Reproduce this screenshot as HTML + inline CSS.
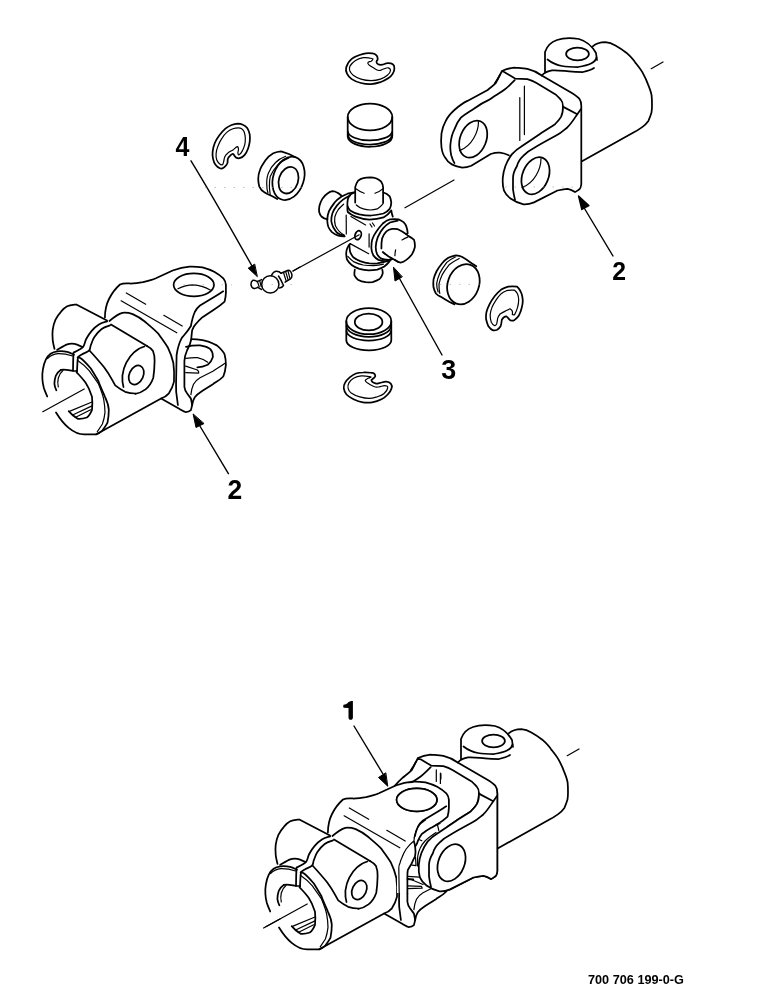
<!DOCTYPE html>
<html><head><meta charset="utf-8"><style>
html,body{margin:0;padding:0;background:#fff;width:772px;height:1000px;overflow:hidden}
svg{position:absolute;left:0;top:0;will-change:transform}
.l{fill:none;stroke:#000;stroke-width:1.75;stroke-linejoin:round;stroke-linecap:round}
.t{stroke-width:1.2}
.d{fill:none;stroke:#aaa;stroke-width:0.8;stroke-dasharray:2 4}
.n{font-family:"Liberation Sans",sans-serif;font-weight:bold;font-size:100px;fill:#000;-webkit-font-smoothing:antialiased}
.c{font-family:"Liberation Sans",sans-serif;font-weight:bold;font-size:12.7px;fill:#000;-webkit-font-smoothing:antialiased}
</style></head><body>
<svg width="772" height="1000" viewBox="0 0 772 1000">
<!-- UPPER RIGHT YOKE -->
<g id="yokeR" class="l">
  <!-- boss -->
  <path d="M545,72 L545,52 C547,46 551,42 557,40 C563,38 572,38 579,39 C586,41 592,46 596,53 L597,60"/>
  <path d="M547.5,59.5 C552,63 556,65 562,66 C568,67 574,67 578,67 C584,66 588,65 591,63.5 C594,62 596,60 596.5,57.5"/>
  <path d="M541.7,75.5 C545,72 548,71 552,70.4 C558,70 564,71 569,71.3 C575,72 579,72 583,72 C588,71 591,70 594,68"/>
  <ellipse cx="577.5" cy="54" rx="11.4" ry="6.3"/>
  <!-- big cylinder -->
  <path d="M592.7,46.3 C596,43.5 600,42.3 605.4,42.2 C609,42.5 612,43.5 615.4,45.4 C620,48 623,50 626.3,52.7 C630,56 633,59 635.3,62.6 C638,66 640.5,69 642.6,72.6 C645,77 646.5,80 648,84.4 C649.5,88 651,92 651.6,95.3 C652,99 652,102 652,105.4 C652,108 651.8,110.5 651.5,112.6 C650.5,116 649.5,118.5 648.4,120.9 C646.5,123.5 644.5,125.5 642.2,127.1 C639.5,129 636.5,131 633.9,132.3 L582,161.3"/>
  <!-- yoke top edge + right edge + bottom of right ear -->
  <path d="M495,83 C498,79 500,75 502,71 C506,69 510,68 514.4,67.6 C519,68 523,68 527.4,68.9 C532,70 537,72 541.7,75.5 L572.7,93.5 C575,95 578,97 579.5,99 C581,101 581.3,103 581.3,106 L581.3,184 C581,187 580,189 579,189.5 C577,191 576,192 575,192 C572,190 570,189 567.5,188.8 C563,189 560,190 557,190.7 L534,202.4 C530,204 527,204.5 523.5,204.3 C518,203 514,201 510.5,198.5 C507,196 505,193 504,190.7 C502.5,186 502.5,182 502.8,177.7 C503,173 504,170 505.4,166 C507,162 509,158 511.8,154.4 C514,152 517,149 521,146.7 L540.3,133.7 C547,129.5 551,127 554.6,124.6 C557,122 559.5,119.5 561,116.8 C563,113 563,110 563,106.5 C563,103 562,101 561,100 C559,97 557,96 556,94.8 L536.5,83 C533,81 530,80 527.4,79.2 C523,79 519,78.8 515.1,78.6 L502.1,70.8"/>
  <!-- bevel corner -->
  <path d="M562.8,106.6 L577.3,114.2 L581,109"/>
  <!-- front face inner line -->
  <path d="M577.3,114.2 C574,119 571,124 567.5,127.2 C564,130 561,133 557,135 C550,139 542,143 534,148 C530,150 526,153 523.5,155.7 C520,159 518,162 517,166 C514,171 513,175 513,178 C513,182 513,186 513,189.4 C513.5,193 514,196 515,199.8"/>
  <!-- left ear outer -->
  <path d="M499.8,75 C498,79 497,81 495.9,82.8 C493,86 490,88 486.8,90.5 L467.4,100.9 C463,103 459,106 454.4,110 C450,114 447,118 445.4,121.6 C443,126 442,130 441.5,133.3 C441,138 441,143 441.5,147.5 C442,151 443,155 445.4,157.9 C447,161 449,163 451.8,164.4 C455,166 458,167 462.2,167.6 C466,167.5 468,167 471.3,165.7 L490.7,154 C494,153 497,152.5 499.8,152.7 C503,153 506,154 508.8,155.3"/>
  <!-- left ear inner edge -->
  <path d="M514.7,80.2 C511,84 508,87 505,89.2 C500,93 494,96 489.4,99.6 C484,102 479,105 473.9,108.7 C469,112 465,114 460.9,117.7 C458,121 456,125 454.4,129.4 C452,134 451,139 450.5,143.7 C450,148 450.5,152 451.2,155.3 C452,158 453,161 454.4,163.1"/>
  <!-- vertical lines middle -->
  <path class="t" d="M519.8,97.7 L519.8,140.4 M524.4,86 L524.4,134.6"/>
  <!-- holes -->
  <ellipse cx="473.2" cy="139.1" rx="13" ry="19.3" transform="rotate(22 473.2 139.1)"/>
  <path class="t" d="M478.5,121.5 C478.5,132 472,146 459.6,150.6"/>
  <ellipse cx="535.5" cy="175.8" rx="13" ry="19.3" transform="rotate(22 535.5 175.8)"/>
</g>
<g class="l">
  <path class="t" d="M541,158.5 C541,169 534.5,183 522,187.6"/>
</g>
<!-- centerline pieces -->
<g class="l t">
  <path d="M651.2,68.7 L663,62"/>
  <path d="M405,207.8 L454,180"/>
</g>
<!-- arrow 2 right -->
<g class="l" style="stroke-width:1.4">
  <path d="M583,206 L613,256"/>
  <path d="M578.5,195.9 L581.8,209.5 L588.9,205.6 Z" style="fill:#000"/>
</g>
<text class="n" transform="matrix(0.2479 0 0 0.2580 612.26 280.26)">2</text>
<!-- TOP SNAP RING -->
<g class="l">
  <path d="M346.2,67.4 C347.1,64.8 348.6,61.3 351.7,58.9 C354.7,56.4 359.5,54.8 363.3,53.8 C367.1,52.8 370.3,53.2 372.6,53.4 C375.0,53.7 375.6,54.4 376.5,55.4 C377.4,56.4 377.7,57.7 377.7,58.9 C377.7,60.1 376.4,61.0 376.5,62.0 C376.6,63.0 377.0,63.8 378.1,64.3 C379.1,64.8 380.7,64.9 382.3,64.7 C384.0,64.5 385.5,63.2 387.4,63.2 C389.3,63.1 391.6,63.4 392.8,64.3 C394.1,65.2 394.4,66.5 394.4,68.2 C394.4,69.9 394.0,71.8 392.8,73.6 C391.7,75.5 390.4,76.8 388.2,78.3 C385.9,79.8 383.5,81.1 380.4,82.2 C377.3,83.2 374.6,84.0 371.1,84.1 C367.6,84.3 364.5,83.9 361.0,83.0 C357.5,82.1 354.2,80.8 351.7,79.1 C349.1,77.4 348.0,75.7 347.0,73.6 C346.0,71.5 345.4,70.1 346.2,67.4 Z"/>
  <path class="t" d="M371.9,58.5 C370.2,58.1 366.2,57.4 363.3,57.7 C360.4,58.1 357.9,59.0 355.5,60.4 C353.2,61.9 351.1,64.1 350.1,65.9 C349.1,67.7 349.2,68.9 349.7,70.5 C350.3,72.2 351.2,73.7 353.2,75.2 C355.2,76.7 357.8,78.1 361.0,79.1 C364.2,80.1 367.6,80.6 371.1,80.6 C374.6,80.6 377.5,80.1 380.4,79.1 C383.3,78.1 385.6,76.7 387.4,75.2 C389.2,73.7 390.4,71.9 390.5,70.5 C390.6,69.2 389.4,68.1 388.2,67.8 C386.9,67.5 385.2,68.5 383.5,69.0 C381.8,69.5 380.7,70.7 378.9,70.5 C377.0,70.3 375.2,68.9 373.4,67.8 C371.6,66.8 369.7,65.7 368.7,64.7 C367.8,63.7 367.6,63.0 368.0,62.4 C368.4,61.7 370.2,61.7 371.1,61.2 C371.9,60.7 372.5,60.1 372.6,59.7 C372.8,59.2 373.5,58.8 371.9,58.5 Z"/>
</g>
<!-- TOP CUP -->
<g class="l">
  <ellipse cx="370" cy="117" rx="22.3" ry="13.4"/>
  <path d="M347.7,117 L347.7,136.5 A22.3,10.5 0 0 0 392.3,136 L392.3,117"/>
  <path d="M347.8,131.5 A22.2,9.4 0 0 0 392,132.2"/>
  <path d="M348.3,134.8 A21.7,9.2 0 0 0 391.7,135.8"/>
</g>
<!-- LEFT SNAP RING -->
<g class="l">
  <path d="M237.9,123.7 C235.8,123.8 233.9,124.1 231.6,125.0 C229.4,125.9 227.7,126.8 225.4,128.7 C223.2,130.6 221.1,133.0 219.2,135.5 C217.3,138.1 216.0,140.2 214.8,143.0 C213.7,145.8 213.0,148.3 212.7,151.1 C212.3,153.9 212.5,156.1 213.0,158.6 C213.5,161.0 214.1,163.0 215.5,164.8 C216.8,166.6 218.9,168.1 220.4,168.5 C222.0,169.0 222.9,168.2 224.2,167.3 C225.4,166.4 226.6,165.1 227.3,163.5 C228.0,162.0 227.3,160.0 227.9,158.6 C228.5,157.1 229.5,156.3 230.4,155.4 C231.3,154.6 232.1,153.8 232.9,153.9 C233.7,154.0 234.1,155.3 234.7,156.1 C235.4,156.8 235.6,157.6 236.6,157.9 C237.6,158.3 238.9,158.5 240.3,157.9 C241.8,157.4 243.3,156.4 244.7,154.8 C246.0,153.3 246.9,151.6 247.8,149.2 C248.7,146.9 249.3,144.5 249.7,141.8 C250.0,139.1 250.1,136.8 249.7,134.3 C249.2,131.8 248.4,129.8 247.2,128.1 C245.9,126.3 244.5,125.4 242.8,124.7 C241.1,123.9 239.9,123.7 237.9,123.7 Z"/>
  <path class="t" d="M238.5,127.8 C236.9,127.8 235.0,127.9 232.9,128.7 C230.7,129.5 228.7,130.6 226.7,132.4 C224.6,134.2 223.2,136.2 221.7,138.7 C220.1,141.1 219.0,143.4 218.0,146.1 C216.9,148.8 216.3,151.1 216.1,153.6 C215.9,156.0 216.1,158.0 216.7,159.8 C217.3,161.6 218.2,162.6 219.2,163.5 C220.2,164.4 221.5,165.0 222.3,164.8 C223.1,164.6 223.1,163.7 223.5,162.3 C224.0,160.8 224.0,158.4 224.8,156.7 C225.6,155.0 226.4,154.2 227.9,153.0 C229.4,151.7 231.2,151.0 232.9,149.9 C234.6,148.7 236.2,146.9 237.2,146.7 C238.2,146.6 238.4,148.1 238.5,149.2 C238.6,150.3 237.7,152.0 237.9,153.0 C238.0,154.0 238.3,155.2 239.1,154.8 C239.9,154.5 241.2,152.9 242.2,151.1 C243.2,149.3 244.1,147.2 244.7,144.9 C245.3,142.5 245.4,140.4 245.3,138.0 C245.2,135.7 244.7,133.5 244.1,131.8 C243.4,130.1 242.6,129.4 241.6,128.7 C240.6,128.0 240.0,127.8 238.5,127.8 Z"/>
</g>
<!-- LEFT CUP -->
<g class="l">
  <path d="M295,157.1 C292,155.5 290,154.5 288.9,154 L281.1,151.3 C278,151.5 276,152 273.3,153.2 C270,155 267.5,157.5 265.5,160.2 C263,164 261,166.5 260.1,169.5 C258.8,173 258.2,176 258.2,178.9 C258.3,182 258.6,184 259.3,186.6 C260.5,189 262,191 264,192 C266,193.5 268.5,194.5 271,195.6 L277.2,199"/>
  <ellipse cx="288.5" cy="178.3" rx="15.3" ry="22.3" transform="rotate(18 288.5 178.3)"/>
  <ellipse cx="288.5" cy="180.2" rx="9.6" ry="13.6" transform="rotate(18 288.5 180.2)"/>
  <path class="t" d="M285.7,156.3 C281,158 278,160 275.6,162.5 C272,166 270,169 268.7,172.6 C267,176 266.7,180 266.7,183.5 C266.7,187 267,190 267.9,192.8"/>
  <path class="t" d="M288.9,157.9 C284,160 280,162.5 277.2,165.6 C274,169 272,172.5 270.2,176.5 C269.5,180 269.3,183 269.4,186.6 C269.5,189 269.8,192 270.2,194.4"/>
</g>
<!-- CROSS -->
<g class="l">
  <!-- top trunnion -->
  <path d="M355.2,202.6 L355.2,187.1 C355.8,184.5 356.7,182.5 357.9,180.9 C359.5,179.5 361.3,178.6 363.3,178.2 C365.5,177.6 368,177.4 370.3,177.4 C372.5,177.5 374.5,177.9 376.5,178.5 C378.5,179.4 380,180.4 381.2,181.7 C382.4,183.5 383,185.3 383.1,187.1 L383.1,203"/>
  <path class="t" d="M355.5,188.6 C358,190.5 361,192.2 364.1,193.3 M375,193.3 C378,192.2 381,190.5 383.1,188.6"/>
  <path class="t" d="M356.3,205 C358.5,207 361,208.3 363.3,208.9 C365.5,209.6 368,210 370.3,210 C372.6,209.9 375,209.5 377.3,208.9 C379.5,207.6 381.3,206 382.7,204.2"/>
  <!-- top collar -->
  <path d="M354.8,192.5 C353,193 351.3,193.8 350.1,194.9 C349,196.2 348.2,197.8 347.8,199.5 C347.4,201.5 347.3,203.7 347.4,205.7 C348,207.5 348.9,209 350.1,210.4 C353,212.3 356,213.5 359.4,214.3 C363.2,215.1 367,215.5 371.1,215.5 C375.5,215.2 379.5,214.5 383.5,213.5 C386,212.3 388.2,210.8 389.7,208.9 C390.7,207 391.2,204.8 391.3,202.6 C391.1,200.5 390.6,198.3 389.7,196.4 C388,194.5 386,193.2 383.5,192.5"/>
  <path d="M347.4,206.5 C347.3,208.5 347.4,210.3 347.8,212 C350,214 352.5,215.5 355.5,216.6 C360,218.2 364.5,219.4 369.5,219.7 C374.5,219.5 379.3,218.7 383.5,217.4 C386.5,215.5 389.3,213.2 391.3,210.4 C391.5,212.5 392,214.5 392.8,216.6"/>
  <!-- body -->
  <path class="t" d="M346.2,215.1 L346.3,234"/>
  <path class="t" d="M350.9,216.6 L365.6,224.9"/>
  <path class="t" d="M369.1,233.9 L369.1,247.1"/>
  <path class="t" d="M350.1,243.6 L368.7,253.7"/>
  <path class="t" d="M370,224 L372,227 M372.5,223 L374.5,226"/>
  <ellipse cx="358.1" cy="235.2" rx="3" ry="4.6" transform="rotate(20 358.1 235.2)"/>
  <!-- left trunnion -->
  <path d="M341.2,195.5 C339.5,194 338.5,193 337.1,192.6 C335.5,191.5 334,191.1 332.5,191.1 C330.5,191.5 329,192.3 327.8,193.2 C325.5,194.8 324,196.5 322.6,198.4 C321,201 320,203.5 319.4,206 C319,208 319,210 319.1,211.8 C319.5,213.5 320.3,215.3 321.4,216.5 C323,218 325,219 327.5,219.4"/>
  <path d="M355.2,192 C352,192.5 350,193 347.6,193.7 C345.5,194.5 343.5,195.5 341.2,196.7 C338.5,198.5 336,200.5 334.2,203.1 C332,206 330.2,208.5 329,211.2 C327.8,214 327.3,217 327.2,220 C327.3,222.5 327.7,225 328.4,227 C329.3,229 330.5,230.8 331.9,232.2 C333.8,233.8 336,235 338.3,235.7 C340.3,236.2 342.5,236.4 344.7,236.3"/>
  <path d="M350,195.5 C347.5,196.8 345.2,198 343,199.6 C340.8,201.3 338.8,203.3 337.1,205.4 C335,208 333.5,210.5 332.5,213 C331.6,215.6 331.3,218.5 331.3,221.1 C331.6,223 332.2,225 333.1,227 C334.3,229 335.6,231.2 337.1,232.8 C339.2,234.5 341.6,235.3 344.1,235.7"/>
  <path class="t" d="M343.6,204.2 C341.8,205.8 340,207.5 338.3,209.5 C336.6,212 335.4,214.5 334.8,217 C334.4,220 334.6,223 335.4,225.8 C336.5,228 337.8,230 339.5,231.6 C341,233 342.5,234.2 344.1,235.1"/>
  <!-- right trunnion collar -->
  <path d="M392.1,259.1 C390,260.5 388.5,261.2 386.4,261.3 C383.5,261.2 381,260.8 378.5,259.9 C376.3,258.8 374.8,257.3 373.5,255.6 C372,253 371.5,251 371.4,248.5 C371.3,245 371.5,242.5 372.1,239.9 C373,236.5 374.5,234 376.4,231.4 C378.5,228.5 380.5,226 382.8,223.5 C385,221.5 387.5,219.8 390,219.3 C393,219 396,219 398.5,219.3 C400.5,220 402,221 403.5,222.1 C405,223.5 405.8,225 406.3,226.4 C407.2,229 407.6,231.5 407.7,233.5"/>
  <path d="M397.8,220.7 C395,221.2 392.5,221.7 390,222.5 C387.5,224 385.3,225.8 383.5,227.8 C381,230.5 379.2,233.8 377.8,237.1 C376.5,240.5 375.9,243.5 375.7,247 C375.7,249.5 376.2,252 377.1,254.2 C378.2,256 379.3,257.3 380.7,258.4 C383.5,259.7 386.3,260 389.2,259.9"/>
  <!-- right trunnion body & cap -->
  <path d="M381.4,248.5 C381.3,245 381.5,241.5 382.1,238.5 C383,235.8 384.5,233.3 386.4,231.4 C388,230 390,229.2 392.1,228.9 C394,228.7 396,228.8 397.8,229.2 C400.8,230.5 403.6,232.3 406.3,234.2"/>
  <path d="M382.8,252 C385.5,254.5 388.5,256.6 392.1,258.4 C394.5,259.8 396.5,261 398.5,262"/>
  <path d="M406.3,234.2 C407.5,235 407.7,235.3 407.7,235.6 C410,236.8 412.3,238.2 414.1,239.9 C414.9,242.5 415,244.5 414.9,247 C414.3,249.8 413.3,252 412,254.2 C410.3,256.5 408.5,258.4 406.3,259.9 C404.5,261.3 402.6,262.3 400.6,262.7 C398.5,262.3 396.5,261.3 394.9,259.9"/>
  <path class="t" d="M395.6,249.9 C395.2,251.8 395,253.8 394.9,255.6 M402,239.9 C403.8,238.8 405.8,237.8 407.7,237.1"/>
  <!-- bottom collar -->
  <path d="M350.1,244 C348.8,245.2 348,246.5 347.4,247.9 C346.6,249.6 346.3,251.4 346.2,253.3 C346.2,255.5 346.5,257.5 347,259.5 C348.2,261.6 349.8,263.5 351.7,265 C354,266.8 356.6,268 359.4,268.9 C362.5,269.8 365.5,270.3 368.7,270.4 C371.6,270.4 374.5,270.1 377.3,269.6 C379.7,268.8 382.1,267.8 384.3,266.5 C386.3,264.9 388.2,263.1 389.7,261.1 L391.3,258.7"/>
  <path d="M349.3,244.8 C349.5,247.2 349.7,249.6 350.1,251.8 C350.9,253.7 351.9,255.6 353.2,257.2 C355.3,258.8 357.7,260.1 360.2,261.1 C363.2,262.2 366.3,263 369.5,263.4 C372.1,263.6 374.7,263.6 377.3,263.4 C379.7,263 382,262.5 384.3,261.9 C386.2,261.2 388,260.4 389.7,259.5"/>
  <path class="t" d="M347.8,256.4 C349.6,258.4 351.7,260.3 354,261.9 C357,263.4 360,264.4 363.3,265 C366.6,265.5 370,265.7 373.4,265.7 C376.8,265.4 380.2,264.9 383.5,264.2"/>
  <!-- bottom trunnion -->
  <path d="M354.8,269.6 C354.5,271.4 354.3,273.3 354.4,275.1 C355.2,276.9 356.4,278.5 357.9,279.7 C360.3,281 362.9,281.8 365.6,282.1 C367.9,282.3 370.3,282.3 372.6,282.1 C375.1,281.3 377.5,280.3 379.6,279 C381.1,277.4 382.2,275.6 382.7,273.5 C382.8,272.2 382.6,270.9 382.3,269.6"/>
</g>
<!-- line into grease hole -->
<path class="l t" d="M293,271 L359.2,234.8"/>
<!-- GREASE FITTING -->
<g class="l" style="stroke-width:1.5">
  <path d="M257,281.5 C255.5,280.3 254,279.9 252.8,280.3 C251.4,281.2 250.9,283 251,284.8 C251.3,286.6 252.3,288 254,288.4 C255.5,288.5 256.8,288 257.8,287.4"/>
  <path d="M257,281.5 C258.5,281 260,280.3 261.5,279.6 M257.8,287.4 C259,288 260.3,288.8 261.6,289.5"/>
  <path class="t" d="M257.6,282 L259.2,286.8 M259.8,281.2 L261.2,286.5"/>
  <circle cx="270.3" cy="284.4" r="8.6"/>
  <path d="M271.5,275.5 C272.5,273.2 274,271.6 276,271.3 C278.2,271.2 280,272 281,273.3 M278.5,276 C280.5,279 282.5,283 283.5,285.5 C282.5,287 281,287.8 279.4,288"/>
  <path d="M281,273.3 L288.2,270.2 C290,270.2 291.5,272.5 292,275.2 C292,277 291.2,278.2 290.5,278.8 L285.1,282.2"/>
  <path class="t" d="M283.5,272.5 L286,280.5 M285.7,271.6 L288,279.5 M287.9,270.7 L290,278.6"/>
</g>
<path class="l t" d="M293,271 L300,267"/>
<!-- label 4 + arrow -->
<text class="n" transform="matrix(0.2500 0 0 0.2706 175.60 156.37)">4</text>
<g class="l" style="stroke-width:1.4">
  <path d="M191,160.8 C215,200 235,236 252,266"/>
  <path d="M257.1,276.4 L248.2,268.2 L254.4,264.3 Z" style="fill:#000;stroke-width:1"/>
</g>
<!-- RIGHT CUP -->
<g class="l">
  <path d="M476.3,266.3 C474.8,265.2 473.2,264.2 471.6,263.2 C468.6,261 465.5,258.8 462.3,257 C460.3,256 458.2,255.5 456.1,255.4 C453.4,255.8 450.7,256.6 448.3,257.8 C446,259.3 443.9,261.1 442.1,263.2 C440.1,265.7 438.2,268.3 436.7,271 C435.3,273.8 434.2,276.6 433.5,279.5 C433.2,282.1 433.2,284.7 433.5,287.3 C434,289.5 434.8,291.6 435.9,293.5 C437.2,294.9 438.8,296 440.5,296.6 C443.1,298.3 445.7,299.9 448.3,301.3 C450.4,302.4 452.5,303.4 454.5,304.4"/>
  <ellipse cx="463.4" cy="284.2" rx="15.6" ry="20.6" transform="rotate(20 463.4 284.2)"/>
  <path class="t" d="M455.3,257 C452.3,258.4 449.4,260.2 446.8,262.4 C444.1,265.8 441.7,269.4 439.8,273.3 C438.3,276.6 437.2,279.9 436.7,283.4 C436.6,286.3 437.1,289.2 438.2,292"/>
  <path class="t" d="M459.2,258.5 C455.6,260.3 452.2,262.4 449.1,264.8 C446.5,267.9 444.1,271.3 442.1,274.9 C440.6,277.9 439.6,281 439,284.2 C438.9,287.3 439.2,290.4 439.8,293.5"/>
</g>
<!-- RIGHT SNAP RING -->
<g class="l">
  <path d="M517,286.7 C514,286.3 511,286.3 508.2,286.7 C505.8,287.3 503.4,288.3 501.2,289.6 C498.8,291.5 496.7,293.6 494.8,296 C492.8,298.6 491,301.3 489.6,304.1 C488.2,306.8 487.1,309.5 486.4,312.3 C486,314.6 485.9,317 486.1,319.3 C486.6,321.7 487.3,324.1 488.4,326.3 C489.7,328.2 491.3,329.8 493.1,330.4 C494.5,330.6 495.9,330.4 497.2,329.8 C498.7,328.8 499.8,327.6 500.6,326.3 C501.4,324.2 501.6,322 501.8,319.9 C502.3,318.9 502.9,318.1 503.6,317.5 C504.5,316.8 505.5,316.4 506.5,316.4 C507.2,316.8 507.8,317.4 508.2,318.1 C509,319.1 509.8,320 510.6,320.5 C512,320.8 513.4,320.6 514.6,319.9 C516.2,318.8 517.6,317.4 518.7,315.8 C520,313.4 521,310.8 521.6,308.2 C522.4,305.7 522.8,303.2 522.8,300.6 C522.7,298.3 522.3,296 521.6,293.7 C520.8,291.7 519.9,289.9 518.7,288.4 Z"/>
  <path class="t" d="M513.5,290.2 C511.2,290 508.8,290.1 506.5,290.7 C504.6,291.4 502.8,292.4 501.2,293.7 C499.3,295.7 497.5,297.8 496,300.1 C494.4,302.5 493,305 491.9,307.6 C491,309.9 490.4,312.2 490.2,314.6 C490.1,317.1 490.5,319.7 491.3,322.2 C492.1,323.8 493.3,325 494.8,325.7 C495.6,325.4 496.2,324.8 496.6,324 C497.2,322 497.4,320 497.7,318.1 C498.3,316.6 499.1,315.2 500.1,314 C501.8,312.9 503.5,312 505.3,311.1 C506.9,310.3 508.4,309.5 510,308.8 C511,309.5 511.8,310.2 512.3,311.1 C512.6,312.3 512.5,313.5 512.3,314.6 C513,315 513.8,315 514.6,314.6 C515.8,312.4 516.8,310 517.5,307.6 C518.3,304.9 518.7,302.2 518.7,299.5 C518.6,297.5 518.2,295.5 517.5,293.7 C516.7,292.4 515.7,291.1 514.6,290.2 Z"/>
</g>
<!-- BOTTOM CUP -->
<g class="l">
  <ellipse cx="368.8" cy="321.2" rx="22.5" ry="13"/>
  <ellipse cx="368.6" cy="322" rx="13.8" ry="8.4"/>
  <path d="M346.3,321.2 L346.3,340.4 A22.5,10.2 0 0 0 391.3,340 L391.3,321.2"/>
  <path d="M346.5,325.8 A22,10.8 0 0 0 391,326"/>
  <path d="M346.5,331.1 A22,9.3 0 0 0 391,331.1"/>
</g>
<!-- BOTTOM SNAP RING -->
<g class="l">
  <path d="M371.4,372.8 C369.6,372.6 366.4,372.2 363.6,372.4 C360.8,372.5 358.4,372.6 355.9,373.5 C353.4,374.5 351.6,375.8 349.7,377.4 C347.7,379.1 346.0,380.9 345.0,382.9 C343.9,384.8 343.5,386.2 343.8,388.3 C344.1,390.4 344.8,392.6 346.5,394.5 C348.3,396.5 350.6,397.8 353.5,399.2 C356.5,400.6 359.5,401.7 362.9,402.3 C366.2,402.9 368.8,402.9 372.2,402.3 C375.5,401.7 378.7,400.6 381.5,399.2 C384.3,397.8 385.9,396.5 387.7,394.5 C389.5,392.6 391.1,390.3 391.6,388.3 C392.2,386.4 391.8,384.8 390.8,383.6 C389.9,382.5 388.1,381.8 386.2,381.7 C384.2,381.6 381.8,382.5 380.0,382.9 C378.1,383.2 377.6,384.1 376.1,383.6 C374.5,383.2 371.8,381.5 371.4,380.5 C371.0,379.6 373.0,379.0 373.7,378.2 C374.4,377.4 375.3,376.8 375.3,375.9 C375.3,375.0 374.4,373.7 373.7,373.2 C373.0,372.6 373.2,372.9 371.4,372.8 Z"/>
  <path class="t" d="M369.9,376.7 C368.2,376.4 364.2,375.6 361.3,375.9 C358.4,376.2 355.8,377.0 353.5,378.2 C351.3,379.5 349.9,381.1 348.9,382.9 C347.9,384.7 347.7,386.5 348.1,388.3 C348.5,390.1 349.1,391.4 351.2,393.0 C353.3,394.5 356.5,395.9 359.8,396.9 C363.0,397.8 366.0,398.4 369.1,398.4 C372.2,398.4 374.2,397.7 376.9,396.9 C379.5,396.0 381.9,395.4 383.8,393.7 C385.8,392.1 387.6,389.0 387.7,387.5 C387.9,386.1 386.2,385.7 384.6,385.6 C383.1,385.5 381.0,386.5 379.2,386.8 C377.4,387.0 376.6,387.5 374.5,386.8 C372.4,386.1 369.2,384.0 367.5,382.9 C365.8,381.8 365.2,381.3 365.2,380.5 C365.2,379.8 366.5,379.2 367.5,378.6 C368.5,378.0 370.2,377.8 370.6,377.4 C371.1,377.1 371.5,376.9 369.9,376.7 Z"/>
</g>
<!-- label 3 + arrow -->
<text class="n" transform="matrix(0.2694 0 0 0.2743 441.16 378.80)">3</text>
<g class="l" style="stroke-width:1.4">
  <path d="M397,274 L442,355"/>
  <path d="M393.5,267.5 L395,281 L402,277 Z" style="fill:#000;stroke-width:1"/>
</g>
<!-- LOWER LEFT YOKE -->
<g class="l" id="yokeL">
  <!-- back hub silhouette + boss top line -->
  <path d="M54.5,348.9 C54.2,347.3 53.0,343.3 52.7,339.9 C52.4,336.4 52.2,333.5 52.7,329.9 C53.2,326.3 53.9,323.2 55.4,319.9 C56.9,316.7 58.7,314.2 60.9,311.8 C63.0,309.3 64.4,307.6 67.2,306.3 C70.0,305.0 74.6,304.8 76.3,304.5 L107,320.5"/>
  <path d="M111,324.5 L147,345.9"/>
  <!-- slot -->
  <path d="M107.1,321.3 C105.6,321.8 101.7,322.7 98.9,324.5 C96.2,326.2 94.0,328.2 91.7,330.8 C89.4,333.4 87.7,336.2 86.2,339.0 C84.8,341.7 84.8,344.3 83.5,346.2 C82.2,348.2 80.8,348.7 79.0,349.8 C77.2,351.0 74.5,352.1 73.5,352.6 L73.2,360 L73,370.8 L77,371"/>
  <path d="M110.0,325.4 C108.5,326.0 104.5,326.9 101.7,329.0 C98.8,331.1 96.4,334.2 94.4,337.1 C92.4,340.1 91.7,342.9 90.8,345.3 C89.8,347.8 90.6,349.1 89.0,350.7 C87.3,352.4 83.7,353.2 81.7,354.4 C79.7,355.5 78.7,356.6 78.1,357.1 L77.6,360 L77,371"/>
  <!-- small arc back hub edge -->
  <path d="M57.2,349.8 C59.0,348.9 64.1,345.5 67.2,344.4 C70.3,343.3 71.7,343.5 74.5,343.9 C77.2,344.4 81.1,346.5 82.6,347.1"/>
  <!-- front ring outer -->
  <path d="M74.0,354.7 C72.7,354.2 70.1,352.4 67.2,351.8 C64.2,351.2 60.4,351.0 57.4,351.3 C54.5,351.7 52.7,352.3 50.6,353.7 C48.5,355.2 47.2,356.8 45.8,359.6 C44.4,362.4 43.5,365.8 42.9,369.3 C42.2,372.8 42.2,375.7 42.4,379.0 C42.5,382.3 43.0,384.6 43.8,387.8 C44.7,390.9 46.6,394.9 47.2,396.5"/>
  <path d="M56,412.5 C60,419 64,424 68.7,427.9 C73,431.5 79,434.4 84.2,434.4 L95.9,434.4 C99,433.5 101,432 102.4,430.5 C105,427 106.5,425 107.5,422.7 C108.5,418 108.8,414 108.8,409.8 C108.5,405 107,401 105,396.8 C102.5,391 100,386 98.5,381.3 C96,377 93,372 90.7,368.3 C87,364 84,360.5 80.3,358 L77.6,357.4"/>
  <path class="t" d="M77.7,360.5 C83,364 86,367 89.4,370.9 C93,376 96,380 98.5,383.9 C101,390 103,395 103.7,399.4 C104.7,405 105,409 105,412.4 C104.5,417 103.5,421 102.4,424 L97.2,431.8"/>
  <path class="t" d="M47.5,358.5 C50.5,355.5 54,354 58,353.7 C62.5,353.6 67,354.2 72.6,356"/>
  <!-- bore -->
  <path d="M61,369.8 C58.5,371.5 56.5,373.5 55.7,376.1 C54.8,379 54.4,381 54.4,383.9 C54.6,386.5 55.5,388.5 56.4,390.3"/>
  <path class="t" d="M63,370.5 C60.5,372.5 59,375 58.3,378 C57.6,381 57.6,384 58.3,387"/>
  <path d="M61,369.8 C64,369.5 67,369.8 70,370.3 L73,370.8 M77,371 L76.5,372.2 C80,376 83,379 85.5,382.6 C88.5,387 90.5,392 92,396.8 C92.5,401 92.5,405 92,409.8 C90.5,413.5 89,416 86.8,417.5 C84,418.5 80,419 77.7,418.8 C74,416.5 71,414 68.7,411.1"/>
  <path class="t" d="M42.8,411.7 L84.2,389"/>
  <path class="t" d="M70,411.1 L92,402 M72.6,415 L92,405.9 M75.2,417.5 L90.7,409.8"/>
  <!-- hub bottom line -->
  <path d="M95.9,434.4 L161.1,398.5 L179.2,408.8 C182,410.5 184,412 185.7,412.1 C188,412 190,411 190.9,410.1 L192.2,405"/>
  <!-- hub outer right edge -->
  <path d="M89.5,350.5 C94.5,356 99.5,361.5 104.1,367.3 C107.2,371.5 110,375.8 112.3,380.1 L115.2,385.4 C118.5,388 121.8,390.2 125.1,391.8 C128.6,392.9 132,393.4 135.6,393.5"/>
  <!-- boss end face -->
  <path d="M147,345.9 C150,347.5 152,349.2 153,351 C154.5,355 154.8,358 154.6,361 C154.5,367 154,373 153.3,377.7 C151.5,383 149,386.5 145.5,389.4 C142,392 138.5,393.5 135.2,393.9"/>
  <path d="M144.4,346.5 C140,347.5 137,349.5 134,352.4 C131,355 128.5,358.5 126.3,362.7 C124,367 123,371 122.4,375.7 C122.2,380 122.5,384 123.5,387"/>
  <ellipse cx="136.3" cy="375" rx="7" ry="10" transform="rotate(25 136.3 375)"/>
  <!-- yoke body outline top -->
  <path d="M104.9,317.4 C105,310 106,305 109,299 C112,293 116,288 120,284.5 C123,283 127,283.3 130,283.5 C135,283.5 139,283 143,282.2 C148,281 152,280 155.9,278.3 L172.7,270.5 C178,268.5 184,267 189.6,266.7 C194,266.5 198,266.8 202.5,267.3 C207,268.5 211,270 214.2,271.8 C218,274 221,276 223.3,278.3 C225,280.5 225.7,282.5 225.9,284.8 L225.9,292.6 C225.8,296 225.3,299 224.6,301.6 C221,305 218,307 214.2,309.4 L202.5,317.2 C200,319.5 198,321.5 196.1,323.7 C194,326 193,328 192.2,330.1 C191.7,333 191.5,336 191.2,339.5 C190.5,344 189,347 187,350.5 C185.5,354 184.5,357 184.4,360.9 L184.4,386.8 C184.8,389.5 185.5,391.5 187,393.3 C188.5,395.5 190,397 190.9,398.5 L192.2,405"/>
  <!-- top ear thickness / front edge line -->
  <path d="M223.3,291.3 C219,294 216,296 212.9,297.7 L200,305.5 C197.5,307.5 196,309.5 194.8,312 C193,316 192,320 190.9,326 C188,331 185,334 181.8,337.9 C179,343 177.5,349 176.6,355 C176.5,362 176.3,370 176.2,377 C176,382 176,387 176.2,392 L177.9,405"/>
  <!-- top ear hole -->
  <ellipse cx="193.8" cy="284.8" rx="20.2" ry="11.5"/>
  <!-- saddle arc / front face edge -->
  <path d="M109.4,321 C114,317 118,314 122.4,312.8 C126,312.5 129.5,313 132.7,314.1 C137,316 141,318.5 144.4,321.3 C150,326 155,330 158.7,334.2 C162,339 165,343 167.7,347.2 C170,352 172,357 173.3,362.7 C174.2,369 174.3,375 174,381.6 C173,386 171,390 168.9,393.3 C166.5,396 164,397.5 161.1,398.5"/>
  <!-- lines on top -->
  <path class="t" d="M126.3,293 L145.7,304.3 M121.1,300.8 L176.8,332.8 M163.8,315.3 L182.2,326"/>
  <!-- lower ear -->
  <path d="M191.5,339 C195,339 199,339.5 202.5,340.2 C207,341 212,343 216.8,345.4 C220,348 223,351 224.6,354.4 C225.6,358 225.9,361 225.9,364.8 C225.5,369 224.8,373 223.3,376.5 C220,380 216,382 212.9,384.2 L202.5,390.7 C199,393 196.5,395 194.8,397.2 C193.3,399.5 192.5,402 192.2,405"/>
  <path class="t" d="M224.6,363.5 C220,367 216,369 212.9,371.3 L200,377.7 C197,379.5 195,381.5 193.5,384.2 C192,387.5 191.2,391 190.9,394.6"/>
  <path d="M186,346.8 C190,345.8 195,345.3 200,345.4 C204,346 208,347 210.3,349.2 C212.5,351.5 213,354 212.9,357 C212,360 210,363 207.7,364.8 C204,366.5 200,367.3 197.4,367.4"/>
  <path class="t" d="M185.7,358.3 C190,357.8 194,357.6 197.4,357.7 C201,358.5 205,360 207.7,362.2"/>
  <path class="t" d="M185.7,366.1 L197.4,370 C198.5,371 199,372 198.7,373.2 L185.7,372.6"/>
</g>
<g class="l">
  <path class="t" d="M177.9,288.7 C183,286 188,284.8 193.5,284.8 C199,285 205,287 210.3,290"/>
</g>
<!-- label 2 lower + arrow -->
<g class="l" style="stroke-width:1.4">
  <path d="M199,424.5 L228.4,473.7"/>
  <path d="M193.2,414.3 L196,427.5 L203.7,423.7 Z" style="fill:#000;stroke-width:1"/>
</g>
<text class="n" transform="matrix(0.2646 0 0 0.2739 227.41 499.27)">2</text>
<!-- faint centerlines -->
<g style="fill:none;stroke:#999;stroke-width:0.6;stroke-dasharray:1.5 8">
  <path d="M505,187 L590,187"/>
  <path d="M205,187.5 L306,187.5"/>
  <path d="M262,284.5 L292,284.5"/>
  <path d="M440,284.4 L486,284.4"/>
  <path d="M174,284.8 L232,284.8"/>
</g>
<!-- ASSEMBLED JOINT -->
<g id="asm">
  <use href="#yokeR" transform="translate(-84,687)"/>
  <path style="fill:#fff;stroke:none" d="M350,790 L380,783 L399,776.5 L403,776 L403,792 L350,815 Z M432,784 L444,784 L444,792 L432,792 Z"/>
  <path class="l t" d="M436.3,769.8 L436.3,781.5 M440.9,773.7 L440.9,779"/>
  <!-- white silhouette of left yoke -->
  <path transform="translate(223,515)" style="fill:#fff;stroke:none" d="M53,349.6 C52,339 53,329 55.5,321.1 C58,315 63,309 76.3,304.2 L104.9,317.4 C105,310 106,305 109,299 C112,293 116,288 120,284.5 C127,283 139,283 155.9,278.3 L172.7,270.5 C184,267 198,266.8 214.2,271.8 C221,276 225.9,280 225.9,292.6 C225.3,299 221,305 214.2,309.4 L202.5,317.2 C194,326 191.5,333 191.5,339 C207,341 220,348 225.9,364.8 C225,373 216,382 202.5,390.7 C196.5,395 192.5,402 192.2,405 L190.9,410.1 C188,412 184,412 179.2,408.8 L161.1,398.5 L95.9,434.4 L84.2,434.4 C73,431.5 60,419 47.3,396.8 C43,385 42,372 44.1,361.8 C46,356 50,352 53,349.6 Z"/>
  <use href="#yokeL" transform="translate(223,515)"/>
  <path class="l" d="M403.5,776.8 C400.5,779.5 398,782 394.5,786"/>
  <!-- top ear cup -->
  <ellipse class="l" cx="416.8" cy="799.8" rx="20.2" ry="11.5" style="fill:#fff"/>
  <!-- cross pieces between -->
  <path style="fill:#fff;stroke:none" d="M413.5,838 L421.8,833.5 L431.1,827.3 L440,822.5 L448,826 L440,870 L424,886 L420,893 L397,893 L397,868 L402,857 L406.2,849 Z"/>
  <g class="l">
    <path class="t" d="M425.4,820 C421,823 419,825 418.1,826.7 C416,830 414.8,834 414.5,836.6 C414.2,838.5 414,840 414,841.8"/><path d="M414,841.8 C414.5,843.5 415,845 415,845.9 C415.3,848 415.5,850 415.5,852.1 C415.4,853.5 415.2,855 415,856.3 C413.5,859 412.5,861.5 411.4,864 C410,866 409,868 407.8,870 C407.5,872 407.4,874 407.4,876 L407.4,893"/>
    <path d="M439.9,823.1 C436,825 433.5,826.5 431.1,827.8 C427.5,829.8 424.5,832 421.8,834 C420.5,835.8 419.5,837.5 418.7,839.2 C418,840.5 417.5,842 417.1,843.3 L415.5,846"/>
  </g>
  <g class="l t">
    <path d="M413.5,841.2 C410,844 408,846.5 406.2,849 C404.5,851.5 403,854.5 402.1,857.3 C401,859.5 400.5,861 400,863 C399,865 398.8,866.5 398.8,868 L399.2,893"/>
    <path d="M415.5,857.3 L416,865.6 L411.9,865.1"/>
    <path d="M419.6,839.7 L421.8,840.7"/>
    <path d="M407.7,876.3 L419.5,877.2 M412.2,880 L423.1,884.5 M407.7,885.8 L421.3,886.3 L422.2,888.1 L407.7,888.6"/><path style="stroke-width:2.2" d="M407.7,879 L413.1,879.5"/>
    <path d="M437.5,824.9 L438.8,830.5"/>
  </g>
  <!-- right ear of right yoke in front -->
  <g transform="translate(-84,687)">
    <path style="fill:#fff;stroke:none" d="M581.3,106 L581.3,184 C581,187 580,189 579,189.5 C577,191 576,192 575,192 C572,190 570,189 567.5,188.8 C563,189 560,190 557,190.7 L534,202.4 C530,204 527,204.5 523.5,204.3 C518,203 514,201 510.5,198.5 C507,196 505,193 504,190.7 C502.5,186 502.5,182 502.8,177.7 C503,173 504,170 505.4,166 C507,162 509,158 511.8,154.4 C514,152 517,149 521,146.7 L540.3,133.7 C547,129.5 551,127 554.6,124.6 C557,122 559.5,119.5 561,116.8 C563,113 563,110 563,106.5 Z"/>
    <path class="l" d="M581.3,106 L581.3,184 C581,187 580,189 579,189.5 C577,191 576,192 575,192 C572,190 570,189 567.5,188.8 C563,189 560,190 557,190.7 L534,202.4 C530,204 527,204.5 523.5,204.3 C518,203 514,201 510.5,198.5 C507,196 505,193 504,190.7 C502.5,186 502.5,182 502.8,177.7 C503,173 504,170 505.4,166 C507,162 509,158 511.8,154.4 C514,152 517,149 521,146.7 L540.3,133.7 C547,129.5 551,127 554.6,124.6 C557,122 559.5,119.5 561,116.8 C563,113 563,110 563,106.5"/>
    <path class="l" d="M562.8,106.6 L577.3,114.2 L581,109"/>
    <path class="l" d="M577.3,114.2 C574,119 571,124 567.5,127.2 C564,130 561,133 557,135 C550,139 542,143 534,148 C530,150 526,153 523.5,155.7 C520,159 518,162 517,166 C514,171 513,175 513,178 C513,182 513,186 513,189.4 C513.5,193 514,196 515,199.8"/>
    <ellipse class="l" cx="535.5" cy="175.8" rx="13" ry="19.3" transform="rotate(22 535.5 175.8)"/>
  </g>
  <path class="l t" d="M436,832.5 C431,835.8 428,838 425,841 C422.8,843.3 421.2,845.8 420,848.5 C418.8,851 418.1,853.5 417.8,856 C417.5,858.5 417.5,861 417.5,866"/>
</g>
<path class="l t" d="M567.2,755.7 L579,749"/>
<path class="l t" d="M263.6,928 L280,919"/>
<!-- label 1 + arrow -->
<path style="fill:#000" d="M348.3,702.3 C349.6,701.6 351,701.1 352.9,701.1 L352.9,717.5 C352.9,719 352,719.8 350.7,719.8 C349.4,719.8 348.5,719 348.5,717.5 L348.5,707.9 L343.6,707.7 C343.1,707.2 343.1,705.2 343.6,704.8 C345.6,704.5 347.2,703.6 348.3,702.3 Z"/>
<g class="l" style="stroke-width:1.4">
  <path d="M354,726 L383,774"/>
  <path d="M387.5,786 L378.5,777.5 L385.5,773 Z" style="fill:#000;stroke-width:1"/>
</g>
<text class="c" x="588" y="983.6">700 706 199-0-G</text>
</svg>
</body></html>
